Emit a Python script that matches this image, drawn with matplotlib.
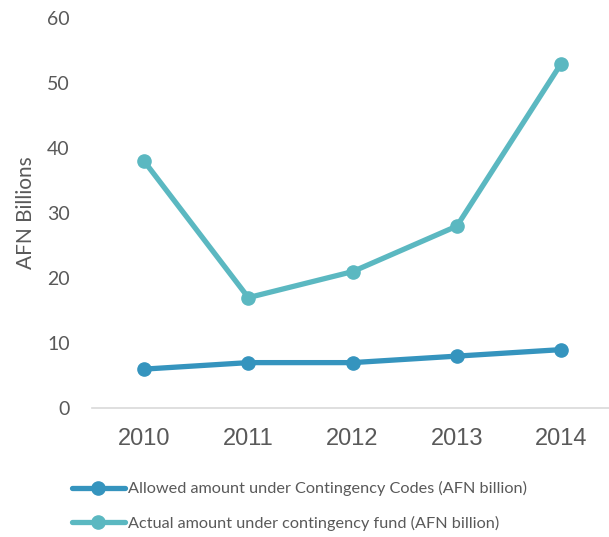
import matplotlib.pyplot as plt

plt.rcParams["font.family"] = ["Lato", "DejaVu Sans"]

years = ["2010", "2011", "2012", "2013", "2014"]
allowed = [6, 7, 7, 8, 9]
actual = [38, 17, 21, 28, 53]

blue = "#3594BE"
teal = "#5BB8C1"
grey = "#595959"

fig = plt.figure(figsize=(6.09, 5.37), dpi=100)
ax = fig.add_axes([0.151, 0.240, 0.856, 0.7263])

x = range(len(years))
ax.plot(x, allowed, color=blue, lw=3.8, marker="o", markersize=9.5,
        solid_capstyle="round", label="Allowed amount under Contingency Codes (AFN billion)")
ax.plot(x, actual, color=teal, lw=3.8, marker="o", markersize=9.5,
        solid_capstyle="round", label="Actual amount under contingency fund (AFN billion)")

ax.set_xlim(-0.5, 4.5)
ax.set_ylim(0, 60)
ax.set_yticks(range(0, 61, 10))
ax.set_xticks(list(x), years)
for s in ["top", "right", "left"]:
    ax.spines[s].set_visible(False)
ax.spines["bottom"].set_color("#D9D9D9")
ax.spines["bottom"].set_linewidth(1.2)
ax.tick_params(axis="both", length=0, labelsize=14, colors=grey)
ax.tick_params(axis="y", pad=16)
ax.tick_params(axis="x", pad=14)
for lbl in ax.get_xticklabels():
    lbl.set_family("Liberation Sans")
    lbl.set_fontsize(17)
ax.set_ylabel("AFN Billions", fontsize=15, color=grey, labelpad=8)

fig.legend(loc="upper left", bbox_to_anchor=(0.1075, 0.116), frameon=False,
           fontsize=11.7, labelcolor=grey, handlelength=3.26, handletextpad=0.2,
           labelspacing=1.2, borderaxespad=0)

fig.savefig("out.png", dpi=100)
